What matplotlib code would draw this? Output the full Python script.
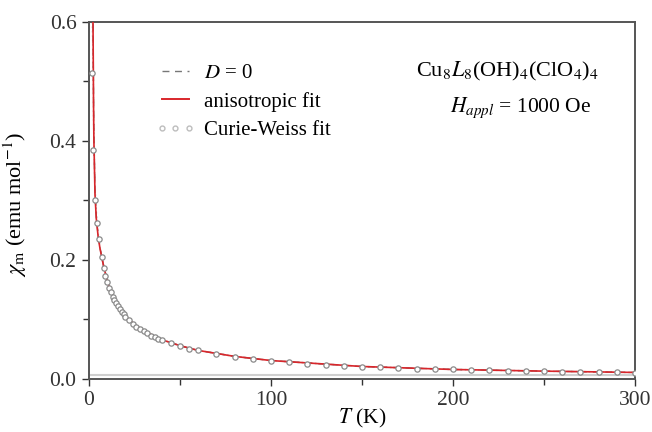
import matplotlib
matplotlib.use("Agg")
import matplotlib.pyplot as plt
from matplotlib.ticker import MultipleLocator, FormatStrFormatter
from matplotlib.lines import Line2D

plt.rcParams['font.family'] = ['Liberation Serif', 'DejaVu Serif']
plt.rcParams['mathtext.fontset'] = 'stix'

# measured data (T in K, chi in emu/mol)
T_data = [1.8, 2.3, 3.3, 4.5, 5.5, 7, 8, 9, 10, 11, 12, 13, 14, 15, 16, 17, 18, 19, 20,
          22, 24, 26, 28, 30, 32, 34, 36, 38, 40, 45, 50, 55, 60, 70, 80, 90, 100,
          110, 120, 130, 140, 150, 160, 170, 180, 190, 200, 210, 220, 230, 240, 250,
          260, 270, 280, 290, 300]
chi_data = [0.515, 0.385, 0.300, 0.262, 0.235, 0.205, 0.187, 0.173, 0.163, 0.153, 0.146,
            0.138, 0.132, 0.127, 0.122, 0.117, 0.113, 0.109, 0.105, 0.099, 0.093, 0.088,
            0.084, 0.080, 0.077, 0.073, 0.070, 0.068, 0.065, 0.060, 0.055, 0.051, 0.048,
            0.042, 0.037, 0.0335, 0.0305, 0.028, 0.0258, 0.0239, 0.0223, 0.0209, 0.0197,
            0.0186, 0.0176, 0.0168, 0.0160, 0.0152, 0.0146, 0.0140, 0.0134, 0.0129,
            0.0124, 0.0120, 0.0116, 0.0112, 0.0108]

# fit curves
T_fit = [1.9, 2.2, 2.5, 2.7, 3.3, 4, 5, 6, 7, 8, 10, 12, 15, 20, 25, 30, 40, 50, 60,
         80, 100, 125, 150, 175, 200, 250, 300]
chi_aniso = [0.68, 0.60, 0.46, 0.40, 0.31, 0.27, 0.24, 0.22, 0.205, 0.19, 0.165, 0.147,
             0.127, 0.105, 0.092, 0.081, 0.066, 0.056, 0.048, 0.038, 0.031, 0.026,
             0.021, 0.0185, 0.016, 0.0132, 0.011]
chi_D0 = [0.70, 0.61, 0.47, 0.41, 0.315, 0.272, 0.242, 0.221, 0.206, 0.191, 0.166, 0.148,
          0.128, 0.106, 0.092, 0.081, 0.066, 0.056, 0.048, 0.038, 0.031, 0.026,
          0.021, 0.0185, 0.016, 0.0132, 0.011]
chi_cw = [0.60, 0.55, 0.45, 0.40, 0.32, 0.28, 0.245, 0.222, 0.205, 0.19, 0.165, 0.147,
          0.127, 0.105, 0.092, 0.081, 0.066, 0.056, 0.048, 0.038, 0.031, 0.026,
          0.021, 0.0185, 0.016, 0.0132, 0.011]

FS = 15.5

fig = plt.figure(figsize=(6.52, 4.32), dpi=100)
ax = fig.add_axes([0.1365, 0.1227, 0.8374, 0.8264])

ax.axhline(0.0065, color='#cfcfcf', lw=1.5, zorder=1)
ax.plot(T_fit, chi_cw, color='#bdbdbd', lw=1.2, ls=':', zorder=2)
ax.plot(T_fit, chi_D0, color='#777777', lw=1.0, ls=(0, (5, 4)), zorder=3)
ax.plot(T_fit, chi_aniso, color='#d9262b', lw=1.2, zorder=4)
ax.plot(T_data, chi_data, ls='none', marker='o', ms=3.8, mfc='white', mec='#8a8a8a',
        mew=0.9, zorder=5)

handles = [Line2D([], [], color='#777777', lw=1.0, ls=(0, (5, 4))),
           Line2D([], [], color='#d9262b', lw=1.4),
           Line2D([], [], color='#bdbdbd', lw=0, marker='o', ms=3.5, mfc='white',
                  mec='#bdbdbd')]
ax.legend(handles, [r'$D$ = 0', 'anisotropic fit', 'Curie-Weiss fit'],
          loc='upper left', bbox_to_anchor=(0.095, 0.925), frameon=False,
          fontsize=15, handlelength=1.9, handletextpad=0.45, labelspacing=0.42,
          numpoints=3, borderpad=0.2)

ax.text(0.935, 0.86, r'Cu$_8$$\mathit{L}_8$(OH)$_4$(ClO$_4$)$_4$', transform=ax.transAxes,
        ha='right', va='center', fontsize=FS + 0.5)
ax.text(0.92, 0.76, r'$H_{appl}$ = 1000 Oe', transform=ax.transAxes,
        ha='right', va='center', fontsize=FS)

ax.set_xlim(0, 300)
ax.set_ylim(0, 0.6)
ax.xaxis.set_major_locator(MultipleLocator(100))
ax.xaxis.set_minor_locator(MultipleLocator(50))
ax.yaxis.set_major_locator(MultipleLocator(0.2))
ax.yaxis.set_minor_locator(MultipleLocator(0.1))
ax.yaxis.set_major_formatter(FormatStrFormatter('%.1f'))
ax.tick_params(which='both', direction='out', colors='#333333', labelsize=FS, width=1.0)
ax.tick_params(which='major', length=5, pad=4)
ax.tick_params(which='minor', length=4)
for s in ax.spines.values():
    s.set_color('#555555')
    s.set_linewidth(1.4)

ax.set_xlabel(r'$T$ (K)', fontsize=FS, va='bottom')
ax.xaxis.set_label_coords(0.5, -0.143)
ax.set_ylabel(r'$\chi_\mathrm{m}$ (emu mol$^{-1}$)', fontsize=FS + 0.5)
ax.yaxis.set_label_coords(-0.11, 0.49)

fig.savefig('out.png', dpi=100)
